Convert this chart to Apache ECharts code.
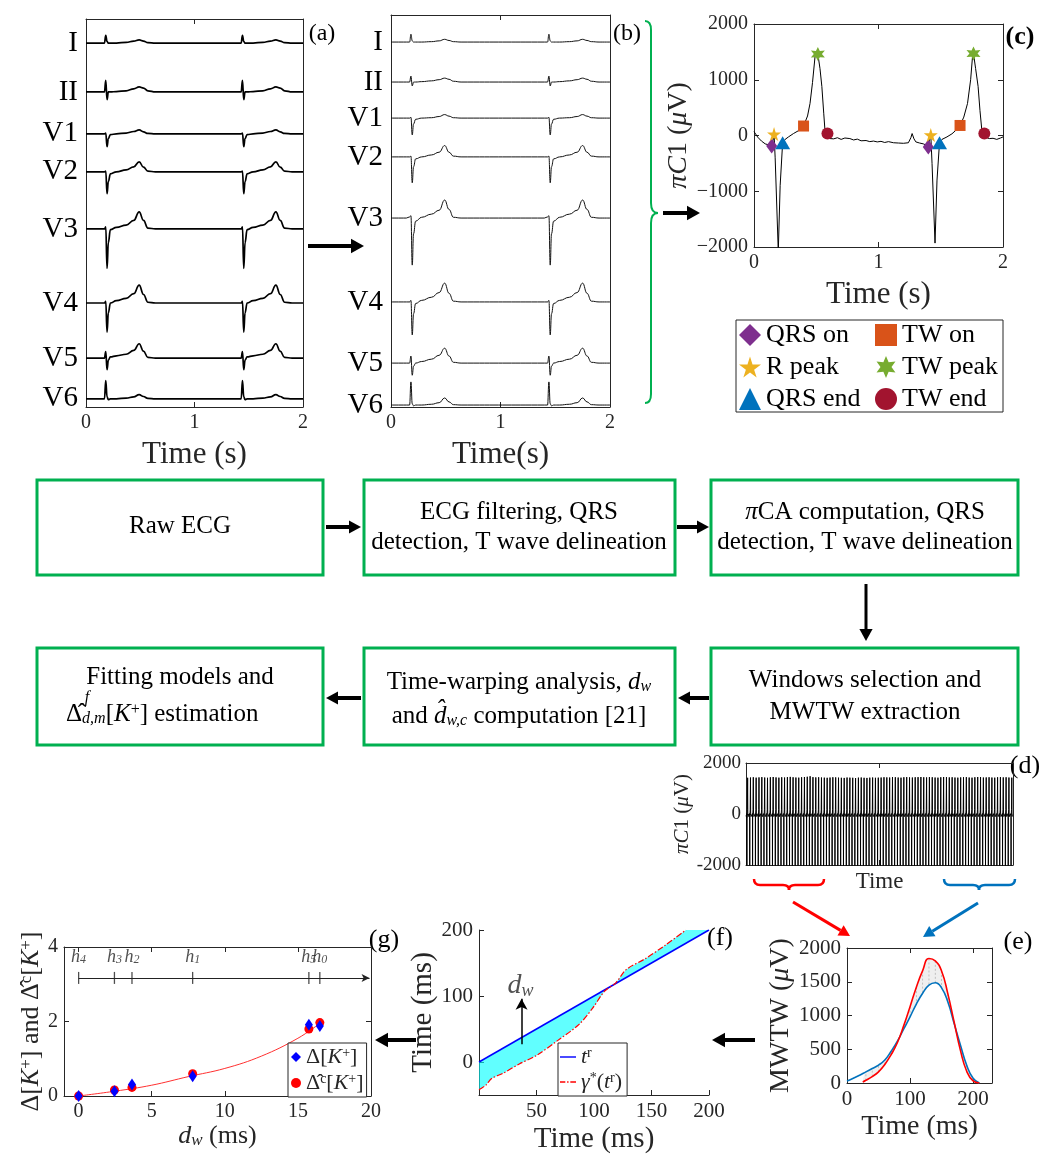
<!DOCTYPE html>
<html>
<head>
<meta charset="utf-8">
<script src="https://cdn.jsdelivr.net/npm/echarts@6/dist/echarts.min.js"></script>
<style>
html, body { margin: 0; background: #fff; }
#chart { width: 1054px; height: 1155px; }
</style>
</head>
<body>
<div id="chart"></div>
<script>
// ---- (a) raw ECG and (b) filtered ECG: 8 leads, two beats, values relative to each lead baseline
const leadNames = ['I', 'II', 'V1', 'V2', 'V3', 'V4', 'V5', 'V6'];
const beatR = [0.19, 1.45];
const beatDt = [-0.05, -0.02, -0.008, 0.004, 0.016, 0.035, 0.09, 0.18, 0.25, 0.3, 0.34, 0.38, 0.45];
const rawBase = [-0.62, -1.88, -2.96, -3.94, -5.41, -7.32, -8.74, -9.79];
const rawWave = [
  [0, 0, 0.2, 0.04, 0, 0, 0, 0.02, 0.05, 0.08, 0.05, 0.01, 0],
  [0, 0, 0.3, -0.2, 0, 0, 0.01, 0.03, 0.08, 0.13, 0.1, 0.03, 0],
  [0, 0, 0.02, -0.33, -0.12, -0.02, 0, 0.02, 0.06, 0.1, 0.05, 0.01, 0],
  [0, 0, 0.02, -0.56, -0.25, -0.05, 0, 0.05, 0.13, 0.26, 0.12, 0.02, 0],
  [0, 0, 0.05, -1.02, -0.35, -0.02, 0.04, 0.1, 0.22, 0.44, 0.22, 0.02, 0],
  [0, 0, 0.04, -0.75, -0.25, 0, 0.06, 0.12, 0.24, 0.46, 0.22, 0.02, 0],
  [0, 0, 0.17, -0.3, -0.05, 0.03, 0.06, 0.1, 0.2, 0.37, 0.18, 0.02, 0],
  [0, 0, 0.47, 0.05, -0.02, 0, 0, 0.02, 0.05, 0.11, 0.06, 0.01, 0]
];
const filtBase = [-0.69, -1.71, -2.63, -3.62, -5.18, -7.32, -8.88, -9.95];
const filtWave = [
  [0, 0, 0.2, 0.03, 0, 0, 0, 0.01, 0.03, 0.07, 0.04, 0.01, 0],
  [0, 0, 0.15, -0.1, 0, 0, 0.01, 0.03, 0.06, 0.1, 0.07, 0.02, 0],
  [0, 0, 0.02, -0.43, -0.15, -0.03, 0, 0.01, 0.04, 0.09, 0.05, 0.01, 0],
  [0, 0, 0.02, -0.66, -0.25, -0.05, 0, 0.05, 0.12, 0.29, 0.12, 0.02, 0],
  [0, 0.03, 0.06, -1.2, -0.4, -0.08, 0.02, 0.1, 0.2, 0.46, 0.22, 0.02, 0],
  [0, 0, 0.04, -0.84, -0.3, -0.04, 0.04, 0.12, 0.24, 0.48, 0.22, 0.02, 0],
  [0, 0, 0.18, -0.31, -0.08, 0, 0.04, 0.1, 0.2, 0.38, 0.18, 0.02, 0],
  [0, 0, 0.59, 0.03, -0.02, 0, 0, 0.02, 0.06, 0.18, 0.08, 0.01, 0]
];

// ---- (c) piCA first component, two beats
const pcTime = [0, 0.01, 0.03, 0.06, 0.09, 0.12, 0.142, 0.155, 0.161, 0.17, 0.195, 0.21, 0.23, 0.25, 0.277, 0.317, 0.36, 0.398, 0.43, 0.45, 0.47, 0.49, 0.513, 0.53, 0.545, 0.56, 0.57, 0.59, 0.61, 0.64, 0.67, 0.70, 0.73, 0.77, 0.80, 0.83, 0.86, 0.90, 0.93, 0.96, 0.99, 1.02, 1.05, 1.08, 1.12, 1.16, 1.20, 1.24, 1.26, 1.27, 1.285, 1.30, 1.33, 1.36, 1.38, 1.40, 1.41, 1.42, 1.43, 1.454, 1.47, 1.49, 1.51, 1.55, 1.59, 1.62, 1.655, 1.685, 1.715, 1.74, 1.755, 1.763, 1.78, 1.80, 1.815, 1.83, 1.85, 1.87, 1.89, 1.92, 1.95, 1.98, 2.0];
const pcVal = [70, 60, -30, -100, -150, -170, -190, -60, 25, -400, -2080, -900, -130, -70, -25, 35, 90, 170, 350, 575, 950, 1410, 1460, 1200, 880, 400, 95, 35, -55, -60, -40, -70, -45, -55, -80, -65, -95, -90, -110, -100, -115, -105, -125, -110, -130, -135, -140, -130, -40, 35, -60, -115, -135, -150, -170, -205, -60, 10, -500, -1930, -800, -130, -70, -25, 30, 90, 180, 330, 575, 1000, 1410, 1470, 1200, 880, 450, 95, 35, -40, -55, -50, -70, -45, -25];
const qrsOn = [[0.142, -190], [1.40, -205]];
const rPeak = [[0.161, 25], [1.42, 10]];
const qrsEnd = [[0.23, -130], [1.49, -130]];
const twOn = [[0.398, 170], [1.655, 180]];
const twPeak = [[0.513, 1460], [1.763, 1470]];
const twEnd = [[0.59, 35], [1.85, 35]];

// ---- (d) long recording: T-wave peak of each beat
const dPeaks = [1420, 1430, 1440, 1425, 1435, 1445, 1430, 1420, 1440, 1450, 1435, 1425, 1440, 1430, 1445, 1455, 1440, 1430, 1425, 1440,
  1450, 1460, 1480, 1445, 1435, 1440, 1430, 1425, 1420, 1430, 1440, 1435, 1425, 1420, 1415, 1430, 1425, 1420, 1410, 1425,
  1430, 1420, 1415, 1425, 1430, 1420, 1425, 1430, 1440, 1435, 1430, 1445, 1440, 1430, 1425, 1440, 1445, 1435, 1430, 1440,
  1445, 1450, 1440, 1435, 1445, 1440, 1430, 1425, 1440, 1450, 1445, 1435, 1440, 1430, 1425, 1435, 1440, 1445, 1430, 1425,
  1440, 1450, 1445, 1430, 1435, 1440, 1430, 1425, 1440, 1445, 1435, 1440, 1430, 1425];
const dRR = 1.25;
const dBeatDt = [-0.05, -0.035, 0, 0.035, 0.2, 0.318, 0.395, 0.6];
const dBeatV = [-150, 20, -2100, -130, 170, null, 35, -100];

// ---- (e) mean warped T waves (red: first window, blue: last window)
const eRed = [[25, 15], [30, 40], [40, 95], [50, 165], [60, 275], [70, 420], [80, 600], [90, 850], [100, 1130], [110, 1420], [120, 1665], [130, 1845], [140, 1810], [150, 1660], [160, 1320], [170, 900], [180, 480], [190, 170], [200, 30], [210, 0]];
const eBlue = [[0, 30], [10, 70], [20, 115], [30, 165], [40, 215], [50, 265], [60, 340], [70, 470], [80, 620], [90, 800], [100, 980], [110, 1170], [120, 1330], [130, 1450], [140, 1485], [150, 1410], [160, 1200], [170, 880], [180, 560], [190, 260], [200, 70], [210, 0]];

// ---- (f) warping function
const fRef = [[0, 0], [200, 200]];
const fWarp = [[0, -42], [6, -35], [11, -25], [21, -17], [35, -3], [50, 10], [68, 32], [87, 57], [99, 82], [109, 107], [119, 120], [128, 140], [145, 157], [162, 177], [180, 200]];

// ---- (g) potassium variation vs d_w
const hPos = [0, 2.45, 3.65, 7.8, 15.75, 16.5];
const hNames = ['4', '3', '2', '1', '5', '0'];
const dK = [0, 0.13, 0.31, 0.53, 1.91, 1.88];
const dKc = [0, 0.16, 0.23, 0.60, 1.80, 1.97];
const fitX = [0, 2.5, 5, 7.5, 10, 12.5, 15, 16.5];
const fitY = [0, 0.13, 0.29, 0.52, 0.74, 1.07, 1.55, 1.95];
const hY = 3.17;

const font = 'Liberation Serif';
const ink = '#262626';

function rich(fs) {
  return {
    i: { fontStyle: 'italic', fontFamily: font, fontSize: fs, color: ink },
    sub: { fontStyle: 'italic', fontFamily: font, fontSize: Math.round(fs * 0.65), verticalAlign: 'bottom', color: ink },
    sup: { fontFamily: font, fontSize: Math.round(fs * 0.65), verticalAlign: 'top', color: ink }
  };
}

function mkAxis(o) {
  const base = {
    type: 'value',
    nameLocation: 'middle',
    axisLine: { onZero: false, lineStyle: { color: ink, width: 1 } },
    axisTick: { inside: true, length: 5, lineStyle: { color: ink } },
    axisLabel: { color: ink, fontFamily: font, fontSize: 20, margin: 6, formatter: v => String(v) },
    splitLine: { show: false },
    nameTextStyle: { color: ink, fontFamily: font, fontSize: 28 }
  };
  const out = Object.assign({}, base, o);
  ['axisLine', 'axisTick', 'axisLabel', 'nameTextStyle'].forEach(k => {
    if (o[k]) out[k] = Object.assign({}, base[k], o[k]);
  });
  return out;
}

function mirror(ax, pos, ticks) {
  return Object.assign({}, ax, {
    position: pos, name: '',
    axisLabel: Object.assign({}, ax.axisLabel, { show: false }),
    axisTick: Object.assign({}, ax.axisTick, { show: ticks })
  });
}

const grids = [], xAxes = [], yAxes = [], series = [];
function panel(grid, xa, ya, box) {
  const g = grids.length;
  grids.push(grid);
  const xi = xAxes.length, yi = yAxes.length;
  const x = mkAxis(Object.assign({ gridIndex: g, position: 'bottom' }, xa));
  const y = mkAxis(Object.assign({ gridIndex: g, position: 'left' }, ya));
  xAxes.push(x);
  yAxes.push(y);
  if (box) {
    xAxes.push(mirror(x, 'top', box.xt));
    yAxes.push(mirror(y, 'right', box.yt));
  }
  return { xAxisIndex: xi, yAxisIndex: yi };
}

function leadLabel(bases, v) {
  const k = bases.findIndex(b => Math.abs(b - v) < 1e-6);
  return k < 0 ? '' : leadNames[k];
}

function leadTrace(wave, base) {
  const pts = [[0, base]];
  beatR.forEach(tr => beatDt.forEach((dt, i) => pts.push([tr + dt, base + wave[i]])));
  pts.push([2, base]);
  return pts;
}

// ---------- panels
const pA = panel({ left: 86, top: 19, width: 217, height: 388 },
  { min: 0, max: 2, interval: 1, name: 'Time (s)', nameGap: 32, nameTextStyle: { fontSize: 31 } },
  { min: -10, max: 0, axisTick: { show: false },
    axisLabel: { customValues: rawBase, formatter: v => leadLabel(rawBase, v), fontSize: 29, margin: 8, color: '#000' } },
  { xt: true, yt: false });

const pB = panel({ left: 391, top: 15, width: 219, height: 392 },
  { min: 0, max: 2, interval: 1, name: 'Time(s)', nameGap: 32, nameTextStyle: { fontSize: 31 } },
  { min: -10, max: 0, axisTick: { show: false },
    axisLabel: { customValues: filtBase, formatter: v => leadLabel(filtBase, v), fontSize: 29, margin: 8, color: '#000' } },
  { xt: true, yt: false });

const minus = v => (v < 0 ? '\u2212' + Math.abs(v) : String(v));
const pC = panel({ left: 754, top: 24, width: 249, height: 223 },
  { min: 0, max: 2, interval: 1, name: 'Time (s)', nameGap: 32, nameTextStyle: { fontSize: 31 } },
  { min: -2000, max: 2000, interval: 1000, axisLabel: { formatter: minus },
    name: '{i|π}{i|C}1 ({i|μ}V)', nameGap: 56, nameTextStyle: { fontSize: 28, rich: rich(28) } },
  { xt: true, yt: true });

const dEnd = dPeaks.length * dRR;
const pD = panel({ left: 746, top: 763, width: 267, height: 102 },
  { min: 0, max: dEnd, axisLabel: { show: false }, axisTick: { customValues: [dEnd / 2] },
    name: 'Time', nameGap: 5, nameTextStyle: { fontSize: 23 } },
  { min: -2000, max: 2000, interval: 2000, axisLabel: { fontSize: 19, margin: 5 },
    name: '{i|π}{i|C}1 ({i|μ}V)', nameGap: 52, nameTextStyle: { fontSize: 21, rich: rich(21) } },
  { xt: true, yt: false });

const pE = panel({ left: 847, top: 948, width: 145, height: 135 },
  { min: 0, max: 230, axisTick: { customValues: [0, 100, 200] }, axisLabel: { customValues: [0, 100, 200], fontSize: 21 },
    name: 'Time (ms)', nameGap: 30, nameTextStyle: { fontSize: 28 } },
  { min: 0, max: 2000, interval: 500, axisLabel: { fontSize: 21 },
    name: 'MWTW ({i|μ}V)', nameGap: 52, nameTextStyle: { fontSize: 28, rich: rich(28) } },
  { xt: true, yt: true });

const pF = panel({ left: 479, top: 930, width: 230, height: 169 },
  { min: 0, max: 200, interval: 50, axisLabel: { showMinLabel: false, fontSize: 21 },
    name: 'Time (ms)', nameGap: 30, nameTextStyle: { fontSize: 29 } },
  { min: -50, max: 200, axisTick: { customValues: [0, 100, 200] }, axisLabel: { customValues: [0, 100, 200], fontSize: 21 },
    name: 'Time (ms)', nameGap: 36, nameTextStyle: { fontSize: 29 } },
  null);

const pG = panel({ left: 64, top: 947, width: 307, height: 149 },
  { min: -1, max: 20, axisTick: { customValues: [0, 5, 10, 15, 20] }, axisLabel: { customValues: [0, 5, 10, 15, 20], fontSize: 20 },
    name: '{i|d}{sub|w} (ms)', nameGap: 27, nameTextStyle: { fontSize: 26, rich: rich(26) } },
  { min: 0, max: 4, interval: 2, axisLabel: { fontSize: 20 },
    name: 'Δ[{i|K}{sup|+}] and Δ\u0302{sup|c}[{i|K}{sup|+}]', nameGap: 17, nameTextStyle: { fontSize: 26, rich: rich(26) } },
  { xt: true, yt: true });

// ---------- series
leadNames.forEach((n, i) => {
  series.push(Object.assign({ type: 'line', data: leadTrace(rawWave[i], rawBase[i]), symbol: 'none', smooth: 0.45,
    smoothMonotone: 'x', lineStyle: { color: '#000', width: 1.7 }, silent: true }, pA));
  series.push(Object.assign({ type: 'line', data: leadTrace(filtWave[i], filtBase[i]), symbol: 'none', smooth: 0.45,
    smoothMonotone: 'x', lineStyle: { color: '#111', width: 1 }, silent: true }, pB));
});

series.push(Object.assign({ type: 'line', data: pcTime.map((t, i) => [t, pcVal[i]]), symbol: 'none',
  lineStyle: { color: '#000', width: 1 }, silent: true }, pC));
const star5 = 'path://M50,0 L61,35 L98,35 L68,57 L79,91 L50,70 L21,91 L32,57 L2,35 L39,35 Z';
const star6 = 'path://M50,0 L62,28 L93,25 L75,50 L93,75 L62,72 L50,100 L38,72 L7,75 L25,50 L7,25 L38,28 Z';
const markerDefs = [
  ['QRS on', qrsOn, 'diamond', [11, 15], '#7E2F8E'],
  ['R peak', rPeak, star5, 14, '#EDB120'],
  ['QRS end', qrsEnd, 'triangle', [15, 13], '#0072BD'],
  ['TW on', twOn, 'rect', 11, '#D95319'],
  ['TW peak', twPeak, star6, 14, '#77AC30'],
  ['TW end', twEnd, 'circle', 12, '#A2142F']
];
markerDefs.forEach(m => series.push(Object.assign({ type: 'scatter', name: m[0], data: m[1], symbol: m[2],
  symbolSize: m[3], itemStyle: { color: m[4], opacity: 1 }, z: 5 }, pC)));

const dTrace = [[0, -60]];
dPeaks.forEach((pk, k) => {
  const tR = k * dRR + 0.4;
  dBeatDt.forEach((dt, j) => dTrace.push([tR + dt, dBeatV[j] === null ? pk : dBeatV[j]]));
});
series.push(Object.assign({ type: 'line', data: dTrace, symbol: 'none', lineStyle: { color: '#000', width: 1 }, silent: true }, pD));

const eHatch = eBlue.filter(b => eRed.some(r => r[0] === b[0]))
  .map(b => [b[0], eRed.find(r => r[0] === b[0])[1], b[1]]);
series.push(Object.assign({ type: 'custom', silent: true, data: eHatch, renderItem: (params, api) => {
  const a = api.coord([api.value(0), api.value(1)]);
  const b = api.coord([api.value(0), api.value(2)]);
  return { type: 'line', shape: { x1: a[0], y1: a[1], x2: b[0], y2: b[1] },
    style: { stroke: '#b0b0b0', lineWidth: 0.8, lineDash: [2, 2] } };
} }, pE));
series.push(Object.assign({ type: 'custom', silent: true, data: [0], renderItem: (params, api) => {
  const pts = eBlue.filter(p => p[0] >= 25).map(p => api.coord(p))
    .concat(eRed.slice().reverse().map(p => api.coord(p)));
  return { type: 'polygon', shape: { points: pts, smooth: 0.3 }, style: { fill: 'rgba(190,190,190,0.25)' } };
} }, pE));
series.push(Object.assign({ type: 'line', data: eBlue, symbol: 'none', smooth: 0.5,
  lineStyle: { color: '#0072BD', width: 1.6 }, silent: true, z: 4 }, pE));
series.push(Object.assign({ type: 'line', data: eRed, symbol: 'none', smooth: 0.5,
  lineStyle: { color: '#FF0000', width: 1.6 }, silent: true, z: 4 }, pE));

series.push(Object.assign({ type: 'custom', silent: true, clip: true, data: [0], renderItem: (params, api) => {
  const pts = fRef.map(p => api.coord(p)).concat(fWarp.slice().reverse().map(p => api.coord(p)));
  return { type: 'polygon', shape: { points: pts }, style: { fill: 'rgba(0,255,255,0.62)' } };
} }, pF));
series.push(Object.assign({ type: 'line', name: 'tr', data: fRef, symbol: 'none', itemStyle: { color: '#0000FF' },
  lineStyle: { color: '#0000FF', width: 1.5 }, z: 4 }, pF));
series.push(Object.assign({ type: 'line', name: 'gamma', data: fWarp, symbol: 'none', smooth: 0.3, itemStyle: { color: '#FF0000' },
  lineStyle: { color: '#FF0000', width: 1.2, type: [6, 2, 1.5, 2] }, z: 4 }, pF));
series.push(Object.assign({ type: 'scatter', data: [[36, 115]], symbolSize: 0, silent: true,
  label: { show: true, position: 'inside', formatter: '{i|d}{sub|w}', rich: rich(28) },
  markLine: { silent: true, animation: false, symbol: ['none', 'arrow'], symbolSize: [9, 11],
    lineStyle: { color: '#000', width: 1.5, type: 'solid' }, label: { show: false },
    data: [[{ coord: [37, 27] }, { coord: [37, 96] }]] } }, pF));

series.push(Object.assign({ type: 'line', data: fitX.map((x, i) => [x, fitY[i]]), symbol: 'none', smooth: 0.4,
  lineStyle: { color: '#FF3030', width: 1 }, silent: true }, pG));
series.push(Object.assign({ type: 'scatter', name: 'dK', data: hPos.map((x, i) => [x, dK[i]]), symbol: 'diamond',
  symbolSize: [8, 12], itemStyle: { color: '#0000FF', opacity: 1 }, z: 5 }, pG));
series.push(Object.assign({ type: 'scatter', name: 'dKc', data: hPos.map((x, i) => [x, dKc[i]]), symbol: 'circle',
  symbolSize: 9, itemStyle: { color: '#FF0000', opacity: 1 }, z: 4 }, pG));
series.push(Object.assign({ type: 'scatter', data: hPos.map(x => [x, hY]), symbol: 'rect', symbolSize: [1.3, 12],
  itemStyle: { color: '#222' }, silent: true,
  label: { show: true, position: 'top', distance: 6, formatter: p => '{i|h}{sub|' + hNames[p.dataIndex] + '}', rich: rich(18) },
  markLine: { silent: true, animation: false, symbol: ['none', 'arrow'], symbolSize: [6, 8],
    lineStyle: { color: '#222', width: 1, type: 'solid' }, label: { show: false },
    data: [[{ coord: [hPos[0], hY] }, { coord: [19.9, hY] }]] } }, pG));

// ---------- legends
const legText = { color: '#000', fontFamily: font, fontSize: 26, lineHeight: 24 };
const solidIcon = 'path://M0,0 L18,0 L18,1.6 L0,1.6 Z';
const dashDotIcon = 'path://M0,0 L6,0 L6,1.6 L0,1.6 Z M8,0 L9.6,0 L9.6,1.6 L8,1.6 Z M11.6,0 L18,0 L18,1.6 L11.6,1.6 Z';
const legends = [
  { data: ['QRS on', 'R peak', 'QRS end'], orient: 'vertical', left: 739, top: 322, itemWidth: 22, itemHeight: 22,
    itemGap: 6, padding: 0, textStyle: legText, selectedMode: false },
  { data: ['TW on', 'TW peak', 'TW end'], orient: 'vertical', left: 875, top: 322, itemWidth: 22, itemHeight: 22,
    itemGap: 6, padding: 0, textStyle: legText, selectedMode: false },
  { data: [{ name: 'tr', icon: solidIcon }, { name: 'gamma', icon: dashDotIcon }], orient: 'vertical', left: 558, top: 1043,
    itemWidth: 16, itemHeight: 2, itemGap: 3, itemStyle: { borderWidth: 0 },
    padding: [3, 5, 3, 2], borderColor: ink, borderWidth: 1, backgroundColor: '#fff', selectedMode: false,
    formatter: n => (n === 'tr' ? '{i|t}{sup|r}' : '{i|γ}{sup|*}({i|t}{sup|r})'),
    textStyle: { color: ink, fontFamily: font, fontSize: 22, rich: rich(22) } },
  { data: ['dK', 'dKc'], orient: 'vertical', left: 288, top: 1043, itemWidth: 10, itemHeight: 10, itemGap: 4,
    padding: [3, 3, 3, 3], borderColor: ink, borderWidth: 1, backgroundColor: '#fff', selectedMode: false,
    formatter: n => (n === 'dK' ? 'Δ[{i|K}{sup|+}]' : 'Δ\u0302{sup|c}[{i|K}{sup|+}]'),
    textStyle: { color: ink, fontFamily: font, fontSize: 22, rich: rich(22) } }
];

// ---------- graphics: flowchart, arrows, braces, panel tags
const G = [];
function txt(x, y, text, size, extra) {
  G.push({ type: 'text', x: x, y: y, silent: true, style: Object.assign({ text: text, fill: '#000', fontFamily: font,
    fontSize: size, align: 'center', verticalAlign: 'middle', rich: rich(size) }, extra || {}) });
}
function arrow(x1, y1, x2, y2, color, w, head) {
  const a = Math.atan2(y2 - y1, x2 - x1);
  const bx = x2 - head * Math.cos(a), by = y2 - head * Math.sin(a);
  const px = -Math.sin(a) * head * 0.55, py = Math.cos(a) * head * 0.55;
  G.push({ type: 'line', silent: true, shape: { x1: x1, y1: y1, x2: bx, y2: by }, style: { stroke: color, lineWidth: w } });
  G.push({ type: 'polygon', silent: true, shape: { points: [[x2, y2], [bx + px, by + py], [bx - px, by - py]] }, style: { fill: color } });
}
function box(x, y, w, h) {
  G.push({ type: 'rect', silent: true, shape: { x: x, y: y, width: w, height: h }, style: { fill: 'none', stroke: '#00B050', lineWidth: 3 } });
}
function seg(x1, y1, x2, y2, color, w) {
  G.push({ type: 'line', silent: true, shape: { x1: x1, y1: y1, x2: x2, y2: y2 }, style: { stroke: color, lineWidth: w } });
}
function curve(x1, y1, cx, cy, x2, y2, color, w) {
  G.push({ type: 'bezierCurve', silent: true, shape: { x1: x1, y1: y1, cpx1: cx, cpy1: cy, x2: x2, y2: y2 },
    style: { stroke: color, fill: 'none', lineWidth: w } });
}
// vertical brace, tip pointing right
function vBrace(x, y1, ym, y2, color, w) {
  curve(x - 6, y1, x, y1, x, y1 + 9, color, w);
  seg(x, y1 + 9, x, ym - 10, color, w);
  curve(x, ym - 10, x, ym, x + 7, ym, color, w);
  curve(x + 7, ym, x, ym, x, ym + 10, color, w);
  seg(x, ym + 10, x, y2 - 9, color, w);
  curve(x, y2 - 9, x, y2, x - 6, y2, color, w);
}
// horizontal brace, tip pointing down
function hBrace(x1, xm, x2, y, color, w) {
  curve(x1, y - 6, x1, y, x1 + 6, y, color, w);
  seg(x1 + 6, y, xm - 6, y, color, w);
  curve(xm - 6, y, xm, y, xm, y + 5, color, w);
  curve(xm, y + 5, xm, y, xm + 6, y, color, w);
  seg(xm + 6, y, x2 - 6, y, color, w);
  curve(x2 - 6, y, x2, y, x2, y - 6, color, w);
}

box(37, 480, 286, 95); box(364, 480, 311, 95); box(711, 480, 307, 95);
box(37, 648, 286, 97); box(364, 648, 311, 97); box(711, 648, 307, 97);
txt(180, 526, 'Raw ECG', 25);
txt(519, 512, 'ECG filtering, QRS', 25);
txt(519, 542, 'detection, T wave delineation', 25);
txt(865, 512, '{i|π}CA computation, QRS', 25);
txt(865, 542, 'detection, T wave delineation', 25);
txt(865, 680, 'Windows selection and', 25);
txt(865, 712, 'MWTW extraction', 25);
txt(519, 682, 'Time-warping analysis, {i|d}{sub|w}', 25);
txt(519, 716, 'and {i|d\u0302}{sub|w,c} computation [21]', 25);
txt(180, 677, 'Fitting models and', 25);
txt(66, 714, 'Δ\u0302{sub|d,m}[{i|K}{sup|+}] estimation', 25, { align: 'left' });
txt(87, 698, 'f', 16, { fontStyle: 'italic' });

arrow(326, 527, 361, 527, '#000', 4, 12);
arrow(677, 527, 709, 527, '#000', 4, 12);
arrow(866, 584, 866, 641, '#000', 3, 12);
arrow(709, 698, 678, 698, '#000', 4, 12);
arrow(361, 698, 326, 698, '#000', 4, 12);

arrow(308, 246, 364, 246, '#000', 4, 13);
arrow(663, 213, 700, 213, '#000', 4, 13);
arrow(755, 1040, 712, 1040, '#000', 4, 13);
arrow(416, 1040, 375, 1040, '#000', 4, 13);
arrow(793, 902, 850, 936, '#FF0000', 3, 11);
arrow(978, 903, 923, 937, '#0072BD', 3, 11);

vBrace(651, 21, 213, 403, '#00B050', 2);
hBrace(754, 789, 824, 885, '#FF0000', 2.5);
hBrace(944, 979, 1015, 885, '#0072BD', 2.5);

G.push({ type: 'rect', silent: true, shape: { x: 736, y: 320, width: 267, height: 92 }, style: { fill: 'none', stroke: ink, lineWidth: 1 } });

txt(322, 34, '(a)', 24);
txt(627, 34, '(b)', 24);
txt(1020, 37, '(c)', 26, { fontWeight: 'bold' });
txt(1025, 766, '(d)', 26);
txt(1018, 942, '(e)', 26);
txt(720, 938, '(f)', 26);
txt(384, 940, '(g)', 26);

const chart = echarts.init(document.getElementById('chart'), null, { renderer: 'canvas' });
chart.setOption({
  animation: false,
  backgroundColor: '#fff',
  grid: grids,
  xAxis: xAxes,
  yAxis: yAxes,
  legend: legends,
  series: series,
  graphic: { elements: G }
});
</script>
</body>
</html>
